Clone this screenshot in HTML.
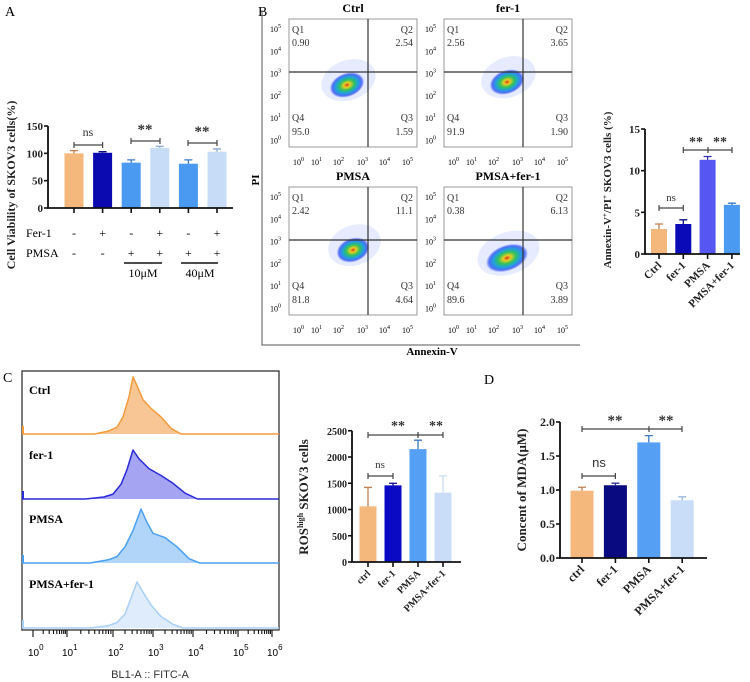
<!DOCTYPE html>
<html><head><meta charset="utf-8"><style>
body{margin:0;background:#fff}
svg{display:block;font-family:"Liberation Serif",serif}
</style></head><body>
<svg id="fig" width="750" height="682" viewBox="0 0 750 682" xmlns="http://www.w3.org/2000/svg">
<defs>
<radialGradient id="blob">
<stop offset="0" stop-color="#e03020"/><stop offset="0.18" stop-color="#e8d020"/><stop offset="0.42" stop-color="#30c060"/><stop offset="0.65" stop-color="#20a0e0"/><stop offset="0.85" stop-color="#3050f0" stop-opacity="0.8"/><stop offset="1" stop-color="#4060ff" stop-opacity="0"/>
</radialGradient>
</defs>
<g id="root"></g>
</svg>
<script>
// ---- Panel A data ----
const A_cats=['ctrl','fer-1','pmsa-10','pmsa-10-fer1','pmsa-40','pmsa-40-fer1'];
const A_vals=[100,101,83,110,81,103];
const A_errs=[5,2,5,3,7,5];
const A_ticks=[0,50,100,150];
const A_fer=['-','+','-','+','-','+'];
const A_pmsa=['-','-','+','+','+','+'];
// ---- Panel B flow data ----
const B_titles=['Ctrl','fer-1','PMSA','PMSA+fer-1'];
const B_q1=['0.90','2.56','2.42','0.38'];
const B_q2=['2.54','3.65','11.1','6.13'];
const B_q3=['1.59','1.90','4.64','3.89'];
const B_q4=['95.0','91.9','81.8','89.6'];
// ---- Panel B bar data ----
const Bb_cats=['Ctrl','fer-1','PMSA','PMSA+fer-1'];
const Bb_vals=[3.0,3.6,11.3,5.9];
const Bb_errs=[0.6,0.5,0.4,0.2];
const Bb_ticks=[0,5,10,15];
// ---- Panel C ROS bar ----
const R_cats=['ctrl','fer-1','PMSA','PMSA+fer-1'];
const R_vals=[1060,1460,2150,1320];
const R_errs=[360,40,170,320];
const R_ticks=[0,500,1000,1500,2000,2500];
// ---- Panel D MDA ----
const D_cats=['ctrl','fer-1','PMSA','PMSA+fer-1'];
const D_vals=[0.99,1.07,1.70,0.85];
const D_errs=[0.05,0.03,0.10,0.05];
const D_ticks=['0.0','0.5','1.0','1.5','2.0'];
// ---- Histogram data (log10 position, relative height) ----
const H_names=['Ctrl','fer-1','PMSA','PMSA+fer-1'];
const H_ctrl_x=[1.6,1.9,2.1,2.25,2.4,2.5,2.6,2.75,2.95,3.2,3.45,3.7];
const H_ctrl_y=[0,0.05,0.12,0.3,0.65,1.0,0.85,0.6,0.45,0.3,0.1,0];
const H_fer_x=[1.4,1.8,2.0,2.2,2.35,2.5,2.65,2.9,3.2,3.5,3.8,4.1];
const H_fer_y=[0,0.04,0.1,0.3,0.6,1.0,0.82,0.62,0.48,0.32,0.12,0];
const H_pmsa_x=[1.5,1.9,2.1,2.3,2.5,2.7,2.85,3.0,3.3,3.6,3.9,4.15];
const H_pmsa_y=[0,0.06,0.12,0.3,0.6,1.0,0.75,0.55,0.47,0.3,0.08,0];
const H_pf_x=[1.5,1.9,2.1,2.3,2.45,2.6,2.75,2.95,3.2,3.5,3.75];
const H_pf_y=[0,0.05,0.12,0.3,0.65,1.0,0.78,0.5,0.25,0.08,0];

const NS='http://www.w3.org/2000/svg';
const root=document.getElementById('root');
function mk(tag,attrs,parent){const e=document.createElementNS(NS,tag);for(const k in attrs)e.setAttribute(k,attrs[k]);(parent||root).appendChild(e);return e;}
function txt(x,y,s,attrs,parent){const e=mk('text',Object.assign({x:x,y:y},attrs||{}),parent);e.textContent=s;return e;}
let el;

el=txt(5,16,'A',{'font-size':14});


el=txt(258,16,'B',{'font-size':14});


el=txt(3,382,'C',{'font-size':14});


el=txt(484,384,'D',{'font-size':14});



function barChart(o){
  const g=mk('g',{});
  
  
  const ys=v=>o.y0-v*o.k;
  o.vals.forEach((v,i)=>{
    const cx=o.x(i);
    const b=mk('rect',{x:cx-o.bw/2,y:ys(v),width:o.bw,height:o.y0-ys(v),fill:o.colors[i]},g);
    
    
    const e=mk('path',{d:`M${cx},${ys(v)} V${ys(v+o.errs[i])} M${cx-4},${ys(v+o.errs[i])} H${cx+4}`,stroke:o.ecolors[i],'stroke-width':1.3,fill:'none'},g);
    
    
    const t=mk('line',{x1:cx,x2:cx,y1:o.y0,y2:o.y0+5,stroke:'#111','stroke-width':1.6},g);
    
    
  });
  const ax=mk('path',{d:`M${o.xl},${ys(o.tmax)} V${o.y0} H${o.xr}`,stroke:'#111','stroke-width':1.8,fill:'none'},g);
  
  
  o.ticks.forEach(t=>{
    const y=ys(parseFloat(t));
    const l=mk('line',{x1:o.xl-4,x2:o.xl,y1:y,y2:y,stroke:'#111','stroke-width':1.6},g);
    
    
    const tt=txt(o.xl-5,y+4,String(t),{'font-size':o.fs||11,'font-weight':'bold','text-anchor':'end',fill:'#222'},g);
    
    
  });
  if(o.rotLabels){
    o.cats.forEach((c,i)=>{
      const cx=o.x(i);
      const tl=txt(0,0,c,{'font-size':o.lfs||11,'font-weight':'bold','text-anchor':'end',transform:`translate(${cx+3},${o.y0+12}) rotate(-45)`,fill:'#222'},g);
      
      
    });
  }
  const yl=txt(0,0,'',{'font-size':o.tfs||12,'font-weight':'bold','text-anchor':'middle',transform:`translate(${o.tx},${o.ty}) rotate(-90)`,fill:'#222'},g);
  yl.innerHTML=o.title;
  
  
  return {g,ys};
}
function bracket(g,x1,x2,y,mid){
  let d=`M${x1},${y} H${x2} M${x1},${y-3} V${y+3} M${x2},${y-3} V${y+3}`;
  if(mid!=null)d+=` M${mid},${y-3} V${y+3}`;
  const p=mk('path',{d:d,stroke:'#444','stroke-width':1.2,fill:'none'},g);
  
  
}
function sig(g,x,y,s,fs,fam){
  const t=txt(x,y,s,{'font-size':fs,'text-anchor':'middle','font-weight':s=='ns'?'normal':'bold',fill:'#333','font-family':fam||'"Liberation Serif",serif'},g);
  
  
}

// ---- Panel A ----
const cA=barChart({name:'panel-a-chart',cats:A_cats,vals:A_vals,errs:A_errs,x:i=>74+i*28.6,bw:19,y0:208,k:82/150,xl:48,xr:233,tmax:150,ticks:A_ticks,
 colors:['#f4b77c','#0a0ab0','#4a9af2','#c7dcf7','#4a9af2','#c7dcf7'],ecolors:['#c08050','#080880','#3a78c0','#8aaad0','#3a78c0','#8aaad0'],
 tx:15,ty:185,title:'Cell Viability of SKOV3 cells(%)',tfs:12});
bracket(cA.g,74,102.6,145);sig(cA.g,88,136,'ns',12);
bracket(cA.g,131,160,141);sig(cA.g,145,134,'**',15);
bracket(cA.g,188,217,143);sig(cA.g,202,136,'**',15);
el=txt(26,237,'Fer-1',{'font-size':12});


el=txt(26,257,'PMSA',{'font-size':12});


A_fer.forEach((s,i)=>{
  el=txt(74+i*28.6,237,s,{'font-size':12,'text-anchor':'middle'});
  
  
});
A_pmsa.forEach((s,i)=>{
  el=txt(74+i*28.6,257,s,{'font-size':12,'text-anchor':'middle'});
  
  
});
el=mk('path',{d:'M124,263 H162 M181,263 H218',stroke:'#111','stroke-width':1.4});


el=txt(143,277,'10μM',{'font-size':12,'text-anchor':'middle'});


el=txt(200,277,'40μM',{'font-size':12,'text-anchor':'middle'});



// ---- Panel B flow plots ----
el=mk('path',{d:'M262,10 V345 H580',stroke:'#555','stroke-width':1,fill:'none'});


el=txt(0,0,'PI',{'font-size':11,'font-weight':'bold','text-anchor':'middle',transform:'translate(259,180) rotate(-90)'});


el=txt(432,355,'Annexin-V',{'font-size':11,'font-weight':'bold','text-anchor':'middle'});


const flowPos=[[289,19],[444,19],[289,187],[444,187]];
const blobPos=[[58,66,18,12],[63,63,18,12],[64,63,17,12],[63,71,22,13]];
function sup(g,x,y,e){
  const t=txt(x,y,'10',{'font-size':8},g);
  const s=mk('tspan',{dy:-4,'font-size':6},t);s.textContent=e;
  return t;
}
B_titles.forEach((ttl,i)=>{
  const [ox,oy]=flowPos[i];
  const g=mk('g',{});
  
  
  const bx=mk('rect',{x:ox,y:oy,width:128,height:128,fill:'#fff',stroke:'#999','stroke-width':1},g);
  
  
  const [bxr,byr,rx,ry]=blobPos[i];
  const halo=mk('ellipse',{cx:ox+bxr+3,cy:oy+byr-4,rx:rx+10,ry:ry+8,fill:'#5070ff','fill-opacity':0.14,transform:`rotate(-20 ${ox+bxr} ${oy+byr})`},g);
  
  
  const bl=mk('ellipse',{cx:ox+bxr,cy:oy+byr,rx:rx,ry:ry,fill:'url(#blob)',transform:`rotate(-20 ${ox+bxr} ${oy+byr})`},g);
  
  
  const q=mk('path',{d:`M${ox+79},${oy} V${oy+128} M${ox},${oy+53} H${ox+128}`,stroke:'#333','stroke-width':1.2},g);
  
  
  const t=txt(ox+64,oy-7,ttl,{'font-size':12,'font-weight':'bold','text-anchor':'middle'},g);
  
  
  const lab=[['Q1',ox+3,oy+14,'start'],[B_q1[i],ox+3,oy+27,'start'],['Q2',ox+124,oy+14,'end'],[B_q2[i],ox+124,oy+27,'end'],
    ['Q4',ox+3,oy+102,'start'],[B_q4[i],ox+3,oy+116,'start'],['Q3',ox+124,oy+102,'end'],[B_q3[i],ox+124,oy+116,'end']];
  lab.forEach(L=>{const e=txt(L[1],L[2],L[0],{'font-size':10,'text-anchor':L[3],fill:'#333'},g);
    
    });
  [5,4,3,2,1,0].forEach((e,j)=>{const s=sup(g,ox-19,oy+13+j*22.3,String(e));
    
    });
  [0,1,2,3,4,5].forEach((e,j)=>{const s=sup(g,ox+4+[0,18,40,64,86,109][j],oy+146,String(e));
    
    });
});

// ---- Panel B bar ----
const cB=barChart({name:'panel-b-chart',cats:Bb_cats,vals:Bb_vals,errs:Bb_errs,x:i=>659+i*24.3,bw:16,y0:254,k:125/15,xl:645,xr:740,tmax:15,ticks:Bb_ticks,
 colors:['#f4b77c','#0a0ab8','#5656f2','#4a9af2'],ecolors:['#c08050','#080880','#3030b0','#3a78c0'],rotLabels:true,lfs:11,
 tx:611,ty:190,title:'Annexin-V<tspan dy="-4" font-size="7">+</tspan><tspan dy="4">/PI</tspan><tspan dy="-4" font-size="7">+</tspan><tspan dy="4"> SKOV3 cells (%)</tspan>',tfs:11});
bracket(cB.g,659,683.3,208);sig(cB.g,671,201,'ns',11);
bracket(cB.g,683.3,732,150,708);sig(cB.g,696,146,'**',14);sig(cB.g,720,146,'**',14);

// ---- Panel C histograms ----
const logX=[33,67,113,153,193,238,272];
function xl(v){const i=Math.min(5,Math.floor(v));return logX[i]+(v-i)*(logX[i+1]-logX[i]);}
const hData=[[H_ctrl_x,H_ctrl_y],[H_fer_x,H_fer_y],[H_pmsa_x,H_pmsa_y],[H_pf_x,H_pf_y]];
const hCol=[['#f39a3a','#f7c08a'],['#2a2ad8','#9a9af2'],['#4aa0f0','#a8d0f8'],['#a8d0f4','#dbeafb']];
const hBase=[434,499,563,628];
const hPeak=[57,49,54,46];
el=mk('rect',{x:22,y:371,width:257,height:259,fill:'none',stroke:'#333','stroke-width':1.3});


H_names.forEach((n,i)=>{
  const g=mk('g',{});
  
  
  const [xs,ys]=hData[i];const b=hBase[i];
  let pts=xs.map((x,j)=>`${xl(x).toFixed(1)},${(b-ys[j]*hPeak[i]).toFixed(1)}`);
  const f=mk('path',{d:'M'+pts.join(' L')+' Z',fill:hCol[i][1],'fill-opacity':0.9,'stroke-linejoin':'round'},g);
  
  
  const s=mk('path',{d:`M22,${b} L`+pts.join(' L')+` L279,${b}`,fill:'none',stroke:hCol[i][0],'stroke-width':1.5,'stroke-linejoin':'round'},g);
  
  
  const sp=mk('path',{d:`M23,${b} V${b-8}`,stroke:hCol[i][0],'stroke-width':2},g);
  
  
  const t=txt(29,b-40,n,{'font-size':12,'font-weight':'bold'},g);
  
  
});
let td='';
for(let dcd=0;dcd<6;dcd++){for(let m=1;m<10;m++){const x=xl(dcd+Math.log10(m));td+=`M${x.toFixed(1)},630 V${m==1?637:634} `;}}
td+='M272,630 V637';
el=mk('path',{d:td,stroke:'#111','stroke-width':1.1});


logX.forEach((x,j)=>{
  const t=txt(x-5,656,'10',{'font-size':10,'font-family':'"Liberation Sans",sans-serif'});
  const s=mk('tspan',{dy:-6,'font-size':8},t);s.textContent=String(j);
  
  
});
el=txt(150,678,'BL1-A :: FITC-A',{'font-size':11,'text-anchor':'middle','font-family':'"Liberation Sans",sans-serif',fill:'#333'});



// ---- Panel C ROS bar ----
const cR=barChart({name:'panel-c-ros-chart',cats:R_cats,vals:R_vals,errs:R_errs,x:i=>368+i*25,bw:17,y0:562,k:105/2000,xl:352,xr:461,tmax:2500,ticks:R_ticks,
 colors:['#f4b77c','#0a0ac4','#55a0f4','#c9ddf8'],ecolors:['#c08050','#080890','#3a78c0','#c9ddf8'],rotLabels:true,lfs:10,fs:10,
 tx:308,ty:497,title:'ROS<tspan dy="-5" font-size="8">high</tspan><tspan dy="5"> SKOV3 cells</tspan>',tfs:13});
bracket(cR.g,368,393,476);sig(cR.g,380,468,'ns',11);
bracket(cR.g,368,443,435,418);sig(cR.g,398,430,'**',14);sig(cR.g,436,430,'**',14);

// ---- Panel D ----
const cD=barChart({name:'panel-d-chart',cats:D_cats,vals:D_vals,errs:D_errs,x:i=>582+i*33.4,bw:23,y0:558,k:68,xl:560,xr:707,tmax:2,ticks:D_ticks,
 colors:['#f4b77c','#0a0a80','#55a0f4','#c9ddf8'],ecolors:['#c08050','#3030a0','#3a78c0','#9ab8e0'],rotLabels:true,lfs:12,fs:12,
 tx:526,ty:490,title:'Concent of MDA(μM)',tfs:13});
bracket(cD.g,582,615.4,476);sig(cD.g,599,467,'ns',13,'"Liberation Sans",sans-serif');
bracket(cD.g,582,682,429,649);sig(cD.g,615,425,'**',15);sig(cD.g,666,425,'**',15);
</script>
</body></html>
